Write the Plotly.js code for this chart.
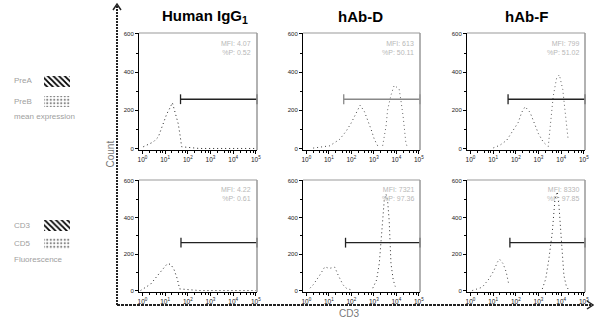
<!DOCTYPE html>
<html>
<head>
<meta charset="utf-8">
<script src="https://cdn.plot.ly/plotly-3.0.1.min.js"></script>
<style>html,body{margin:0;padding:0;background:#fff;}#chart{width:594px;height:335px;}</style>
</head>
<body>
<div id="chart"></div>
<script>
// ---- data (log10 CD3 intensity, event count) ----
const columnTitles = ['Human IgG<sub>1</sub>', 'hAb-D', 'hAb-F'];
const xTickVals = [1, 10, 100, 1000, 10000, 100000];
const xTickText = ['10<sup>0</sup>', '10<sup>1</sup>', '10<sup>2</sup>', '10<sup>3</sup>', '10<sup>4</sup>', '10<sup>5</sup>'];
const yTickVals = [0, 200, 400, 600];

// Row 1
const logIgGTop = [0.04, 0.25, 0.48, 0.70, 0.85, 1.07, 1.22, 1.32, 1.44, 1.58, 1.66, 1.73, 2.5, 3.5, 4.5, 5.0];
const cntIgGTop = [9, 20, 34, 60, 111, 180, 214, 240, 189, 129, 69, 9, 0, 0, 0, 0];
const logDTopNeg = [0.30, 1.04, 1.48, 1.77, 1.99, 2.14, 2.29, 2.39, 2.58, 2.73, 2.88, 3.02, 3.17];
const cntDTopNeg = [2, 14, 48, 91, 133, 168, 210, 227, 193, 150, 99, 48, 14];
const logDTopPos = [3.39, 3.54, 3.61, 3.76, 3.90, 4.12, 4.20, 4.30, 4.42, 4.49];
const cntDTopPos = [14, 116, 202, 279, 330, 313, 253, 168, 31, 5];
const logFTopNeg = [1.01, 1.30, 1.60, 1.89, 2.11, 2.26, 2.41, 2.63, 2.85, 3.00, 3.21, 3.36];
const cntFTopNeg = [3, 17, 43, 94, 137, 189, 219, 189, 120, 77, 34, 17];
const logFTopPos = [3.43, 3.54, 3.65, 3.80, 3.92, 4.07, 4.17, 4.24, 4.31];
const cntFTopPos = [9, 154, 274, 369, 386, 309, 206, 120, 43];

// Row 2
const logIgGBot = [-0.08, 0.15, 0.37, 0.66, 0.88, 1.10, 1.25, 1.39, 1.54, 1.64, 2.5, 3.5, 4.5, 5.0];
const cntIgGBot = [0, 18, 36, 81, 116, 147, 143, 116, 63, 9, 0, 0, 0, 0];
const logDBotNeg = [0.16, 0.30, 0.60, 0.82, 1.01, 1.26, 1.41, 1.63, 1.77, 2.07];
const cntDBotNeg = [13, 31, 85, 130, 121, 128, 85, 31, 13, 0];
const logDBotPos = [2.95, 3.12, 3.24, 3.32, 3.39, 3.46, 3.54, 3.61, 3.68, 3.71, 3.76, 3.86, 3.95];
const cntDBotPos = [13, 58, 148, 257, 383, 492, 528, 492, 383, 257, 148, 58, 22];
const logFBotNeg = [0.08, 0.52, 0.82, 1.04, 1.19, 1.29, 1.44, 1.58, 1.70];
const cntFBotNeg = [0, 18, 64, 110, 156, 171, 147, 101, 28];
const logFBotPos = [3.17, 3.32, 3.46, 3.61, 3.73, 3.83, 3.90, 3.98, 4.05, 4.12, 4.22, 4.34];
const cntFBotPos = [9, 64, 174, 321, 505, 541, 468, 321, 193, 83, 28, 0];

// Positive gate (log10 start, log10 end, count level)
const gateStartLog = [1.68, 1.66, 1.66, 1.70, 1.74, 1.74];
const gateEndLog = [5.05, 5.05, 5.05, 5.05, 5.05, 5.05];
const gateLevel = [258, 258, 258, 262, 262, 262];

// Panel statistics text
const statLine1 = ['MFI: 4.07', 'MFI: 613', 'MFI: 799', 'MFI: 4.22', 'MFI: 7321', 'MFI: 8330'];
const statLine2 = ['%P: 0.52', '%P: 50.11', '%P: 51.02', '%P: 0.61', '%P: 97.36', '%P: 97.85'];

// Legend labels
const legendTop = ['PreA', 'PreB', 'mean expression'];
const legendBot = ['CD3', 'CD5', 'Fluorescence'];

// ---- layout helpers ----
const W = 594, H = 335;
const px = v => v / W;
const py = v => 1 - v / H;
const colX = [[139, 257], [303, 420], [467, 585]];
const rowY = [[33, 150], [180, 292]];
const pow = a => a.map(v => Math.pow(10, v));

const curveSets = [
  [[logIgGTop, cntIgGTop, '#222']],
  [[logDTopNeg, cntDTopNeg, '#444'], [logDTopPos, cntDTopPos, '#666']],
  [[logFTopNeg, cntFTopNeg, '#444'], [logFTopPos, cntFTopPos, '#666']],
  [[logIgGBot, cntIgGBot, '#222']],
  [[logDBotNeg, cntDBotNeg, '#444'], [logDBotPos, cntDBotPos, '#333']],
  [[logFBotNeg, cntFBotNeg, '#444'], [logFBotPos, cntFBotPos, '#333']]
];
const gateColors = ['#222', '#888', '#222', '#222', '#222', '#222'];

const minorVals = [];
for (let d = 0; d < 5; d++) for (let m = 2; m <= 9; m += 2) minorVals.push(m * Math.pow(10, d));

const traces = [];
const layout = {
  width: W, height: H,
  margin: {l: 0, r: 0, t: 0, b: 0},
  paper_bgcolor: '#fff', plot_bgcolor: 'rgba(0,0,0,0)',
  showlegend: false,
  font: {family: 'Liberation Sans, Arial, sans-serif', color: '#000'},
  shapes: [], annotations: []
};

for (let p = 0; p < 6; p++) {
  const r = Math.floor(p / 3), c = p % 3;
  const s = p === 0 ? '' : String(p + 1);
  const xa = 'x' + s, ya = 'y' + s;
  layout['xaxis' + s] = {
    domain: [px(colX[c][0]), px(colX[c][1])], anchor: ya,
    type: 'log', range: [-0.15, 5.05],
    tickvals: xTickVals, ticktext: xTickText,
    ticks: 'outside', ticklen: 3, tickwidth: 1, tickcolor: '#000',
    tickfont: {size: 6.5, color: '#222'},
    minor: {tickvals: minorVals, ticks: 'outside', ticklen: 2, tickcolor: '#000', showgrid: false},
    showline: true, linecolor: '#000', linewidth: 1,
    showgrid: false, zeroline: false, fixedrange: true
  };
  layout['yaxis' + s] = {
    domain: [py(rowY[r][1]), py(rowY[r][0])], anchor: xa,
    range: [-8, 605],
    tickvals: yTickVals,
    ticks: 'outside', ticklen: 3, tickwidth: 1, tickcolor: '#000',
    tickfont: {size: 6, color: '#222'},
    minor: {dtick: 100, ticks: 'outside', ticklen: 2, tickcolor: '#000', showgrid: false},
    showline: true, linecolor: '#000', linewidth: 1,
    showgrid: false, zeroline: false, fixedrange: true
  };
  // top / right frame (gray)
  layout.shapes.push({type: 'line', xref: xa + ' domain', yref: ya + ' domain', x0: 0, x1: 1, y0: 1, y1: 1, line: {color: '#999', width: 1}});
  layout.shapes.push({type: 'line', xref: xa + ' domain', yref: ya + ' domain', x0: 1, x1: 1, y0: 0, y1: 1, line: {color: '#999', width: 1.5}});

  curveSets[p].forEach(([lx, cy, col]) => {
    traces.push({type: 'scatter', mode: 'lines', x: pow(lx), y: cy, xaxis: xa, yaxis: ya,
      line: {color: col, width: 1, dash: '1px,3px'}, hoverinfo: 'skip'});
  });
  traces.push({type: 'scatter', mode: 'lines+markers', x: pow([gateStartLog[p], gateEndLog[p]]),
    y: [gateLevel[p], gateLevel[p]], xaxis: xa, yaxis: ya, cliponaxis: false,
    line: {color: gateColors[p], width: 1.3},
    marker: {symbol: 'line-ns-open', size: 7, line: {color: gateColors[p], width: 1.3}}, hoverinfo: 'skip'});

  layout.annotations.push({xref: xa + ' domain', yref: ya + ' domain', x: 0.97, y: 0.96, xanchor: 'right', yanchor: 'top',
    text: statLine1[p] + '<br>' + statLine2[p], showarrow: false, align: 'right',
    font: {size: 7, color: '#b8b8b8'}});
}

// column titles
const titleX = [205, 360, 526];
columnTitles.forEach((t, i) => layout.annotations.push({
  xref: 'paper', yref: 'paper', x: px(titleX[i]), y: py(16), xanchor: 'center', yanchor: 'middle',
  text: '<b>' + t + '</b>', showarrow: false, font: {size: 15, color: '#000'}
}));

// axis titles
layout.annotations.push({xref: 'paper', yref: 'paper', x: px(102), y: py(154), text: 'Count', textangle: -90,
  showarrow: false, font: {size: 10, color: '#777'}});
layout.annotations.push({xref: 'paper', yref: 'paper', x: px(349), y: py(321), text: 'CD3',
  showarrow: false, font: {size: 10, color: '#777'}});

// big dashed axes with arrows
layout.shapes.push({type: 'line', xref: 'paper', yref: 'paper', x0: px(117), x1: px(117), y0: py(6), y1: py(305),
  line: {color: '#222', width: 2, dash: '2px,1px'}});
layout.shapes.push({type: 'line', xref: 'paper', yref: 'paper', x0: px(117), x1: px(591), y0: py(305), y1: py(305),
  line: {color: '#222', width: 2, dash: '3px,1px'}});
layout.shapes.push({type: 'path', xref: 'paper', yref: 'paper',
  path: `M ${px(113)} ${py(10)} L ${px(117)} ${py(4)} L ${px(121)} ${py(10)}`, line: {color: '#222', width: 1.5}});
layout.shapes.push({type: 'path', xref: 'paper', yref: 'paper',
  path: `M ${px(587)} ${py(301)} L ${px(593)} ${py(305)} L ${px(587)} ${py(309)}`, line: {color: '#222', width: 1.5}});

// legend swatches on a small side axis in pixel-like units (left strip only)
layout.xaxis7 = {domain: [0, px(100)], range: [0, 100], visible: false, fixedrange: true, anchor: 'y7'};
layout.yaxis7 = {domain: [0, 1], range: [H, 0], visible: false, fixedrange: true, anchor: 'x7'};
function box(x0, x1, y0, y1, pat) {
  traces.push({type: 'scatter', mode: 'lines', x: [x0, x1, x1, x0, x0], y: [y0, y0, y1, y1, y0],
    xaxis: 'x7', yaxis: 'y7', fill: 'toself', fillcolor: '#fff', line: {width: 0, color: 'rgba(0,0,0,0)'},
    fillpattern: pat, hoverinfo: 'skip'});
}
const hatch = {shape: '\\', size: 4, solidity: 0.45, fgcolor: '#000', bgcolor: '#fff'};
const dots = {shape: '.', size: 3.5, solidity: 0.3, fgcolor: '#888', bgcolor: '#fff'};
box(44, 70, 76, 87, hatch);
box(44, 70, 96, 107, dots);
box(44, 70, 220, 231, hatch);
box(44, 70, 238, 249, dots);
const legY = [[81, 101, 117], [225, 243, 259]];
[legendTop, legendBot].forEach((labels, g) => labels.forEach((t, i) => layout.annotations.push({
  xref: 'paper', yref: 'paper', x: px(12), y: py(legY[g][i]), xanchor: 'left', yanchor: 'middle',
  text: t, showarrow: false, font: {size: 8, color: '#a0a0a0'}
})));

Plotly.newPlot('chart', traces, layout, {staticPlot: true, displayModeBar: false});
</script>
</body>
</html>
